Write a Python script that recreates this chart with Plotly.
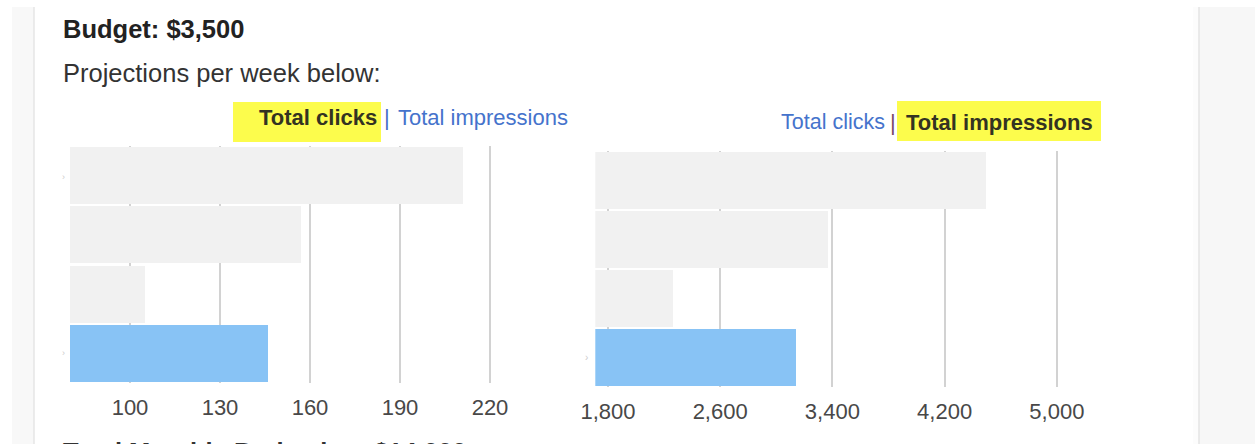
import plotly.graph_objects as go

# ---------------- data ----------------
categories = ["Option A", "Option B", "Option C", "Selected"]
clicks = [211, 157, 105, 146]
impressions = [4500, 3370, 2265, 3140]
bar_colors = ["#f1f1f1", "#f1f1f1", "#f1f1f1", "#88c3f5"]

clicks_ticks = [100, 130, 160, 190, 220]
clicks_ticklabels = ["100", "130", "160", "190", "220"]
impr_ticks = [1800, 2600, 3400, 4200, 5000]
impr_ticklabels = ["1,800", "2,600", "3,400", "4,200", "5,000"]

title_text = "Budget: $3,500"
subtitle_text = "Projections per week below:"
footer_text = "Total Monthly Projection: $14,000"
tab_clicks = "Total clicks"
tab_impr = "Total impressions"

W, H = 1255, 444
REG = "Liberation Sans, Arial, Helvetica, sans-serif"


def px(x):
    return x / W


def py(y):
    return 1 - y / H


fig = go.Figure()
fig.add_trace(go.Bar(y=list(range(len(categories))), x=clicks, orientation="h",
                     marker=dict(color=bar_colors, line=dict(width=0)), width=0.965,
                     base=0, xaxis="x", yaxis="y", hoverinfo="x", text=categories,
                     textposition="none"))
fig.add_trace(go.Bar(y=list(range(len(categories))), x=impressions, orientation="h",
                     marker=dict(color=bar_colors, line=dict(width=0)), width=0.965,
                     base=0, xaxis="x2", yaxis="y2", hoverinfo="x", text=categories,
                     textposition="none"))

axis_common = dict(showgrid=True, gridcolor="#d2d2d2", gridwidth=1.5, zeroline=False,
                   showline=False, ticks="", fixedrange=True, automargin=False,
                   ticklabelstandoff=9,
                   tickfont=dict(family=REG, size=22, color="#484848"))

fig.update_layout(
    width=W, height=H, margin=dict(l=0, r=0, t=0, b=0, pad=0, autoexpand=False),
    paper_bgcolor="white", plot_bgcolor="rgba(0,0,0,0)", showlegend=False,
    bargap=0,
    xaxis=dict(domain=[px(70), px(520)], range=[80, 230], anchor="y",
               tickvals=clicks_ticks, ticktext=clicks_ticklabels, **axis_common),
    yaxis=dict(domain=[py(383), py(146)], range=[3.5, -0.5], anchor="x", automargin=False,
               showgrid=False, zeroline=False, showticklabels=False, fixedrange=True),
    xaxis2=dict(domain=[px(595.3), px(1113)], range=[1710, 5400], anchor="y2",
                tickvals=impr_ticks, ticktext=impr_ticklabels, **axis_common),
    yaxis2=dict(domain=[py(387), py(151)], range=[3.5, -0.5], anchor="x2", automargin=False,
                showgrid=False, zeroline=False, showticklabels=False, fixedrange=True),
)

shapes = [
    # page side panels
    dict(type="rect", xref="paper", yref="paper", x0=px(12), x1=px(34), y0=py(444), y1=py(7),
         fillcolor="#f8f8f8", line=dict(width=0), layer="below"),
    dict(type="line", xref="paper", yref="paper", x0=px(34), x1=px(34), y0=py(444), y1=py(7),
         line=dict(color="#e6e6e6", width=1.5), layer="below"),
    dict(type="rect", xref="paper", yref="paper", x0=px(1193), x1=px(1199), y0=py(444), y1=py(7),
         fillcolor="#fcfcfc", line=dict(width=0), layer="below"),
    dict(type="rect", xref="paper", yref="paper", x0=px(1199), x1=1, y0=py(444), y1=py(7),
         fillcolor="#f7f7f7", line=dict(width=0), layer="below"),
    dict(type="line", xref="paper", yref="paper", x0=px(1199), x1=px(1199), y0=py(444), y1=py(7),
         line=dict(color="#e4e4e4", width=1.5), layer="below"),
    # yellow highlights behind the active tab
    dict(type="rect", xref="paper", yref="paper", x0=px(233), x1=px(381), y0=py(142), y1=py(102),
         fillcolor="#fcfc4c", line=dict(width=0), layer="below"),
    dict(type="rect", xref="paper", yref="paper", x0=px(897), x1=px(1101), y0=py(141), y1=py(101),
         fillcolor="#fcfc4c", line=dict(width=0), layer="below"),
]
fig.update_layout(shapes=shapes)


def ann(text, x, y, size, color, bold=False, xanchor="left"):
    t = f"<b>{text}</b>" if bold else text
    return dict(text=t, x=px(x), y=py(y), xref="paper", yref="paper", xanchor=xanchor,
                yanchor="middle", showarrow=False,
                font=dict(family=REG, size=size, color=color))


annotations = [
    ann(title_text, 61, 29, 25.5, "#222222", bold=True),
    ann(subtitle_text, 61, 73, 25.5, "#333333"),
    ann(footer_text, 61, 452, 25.5, "#333333", bold=True),
    # left chart tabs
    ann(tab_clicks, 257, 118, 22, "#333322", bold=True),
    ann("|", 387, 118, 22, "#4a6fc8", xanchor="center"),
    ann(tab_impr, 396, 118, 22, "#4573cc"),
    # right chart tabs
    ann(tab_clicks, 779, 122, 21.5, "#4573cc"),
    ann("|", 893, 122, 22, "#7a4a6a", xanchor="center"),
    ann(tab_impr, 904, 122, 22, "#333322", bold=True),
    # faint truncated category markers
    ann("›", 63, 177, 9, "#cccccc", xanchor="center"),
    ann("›", 63, 353, 9, "#cccccc", xanchor="center"),
    ann("›", 586, 357, 10, "#cccccc", xanchor="center"),
]
fig.update_layout(annotations=annotations)

fig.write_html("out.html", config={"displayModeBar": False})
